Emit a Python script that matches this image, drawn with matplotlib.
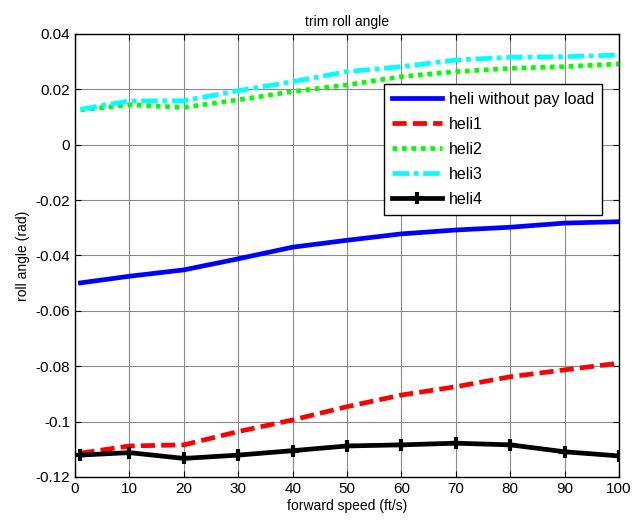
import matplotlib
matplotlib.use("Agg")
import matplotlib.pyplot as plt

plt.rcParams['font.family'] = ['Liberation Sans', 'DejaVu Sans']

# forward speed (ft/s)
speed = [1, 10, 20, 30, 40, 50, 60, 70, 80, 90, 100]

# roll angle (rad)
heli0 = [-0.0499, -0.0475, -0.0452, -0.0412, -0.0370, -0.0345, -0.0322, -0.0308, -0.0298, -0.0283, -0.0278]
heli1 = [-0.1114, -0.1088, -0.1084, -0.1036, -0.0994, -0.0946, -0.0904, -0.0874, -0.0838, -0.0813, -0.0789]
heli2 = [0.0126, 0.0144, 0.0135, 0.0162, 0.0192, 0.0216, 0.0246, 0.0264, 0.0276, 0.0282, 0.0292]
heli3 = [0.0128, 0.0158, 0.0159, 0.0195, 0.0228, 0.0264, 0.0282, 0.0306, 0.0316, 0.0318, 0.0324]
heli4 = [-0.1121, -0.1112, -0.1133, -0.1121, -0.1105, -0.1088, -0.1084, -0.1078, -0.1084, -0.1109, -0.1124]

labels = ['heli without pay load', 'heli1', 'heli2', 'heli3', 'heli4']

fig = plt.figure(figsize=(6.33, 5.26), dpi=100)
ax = fig.add_axes([0.1185, 0.0932, 0.8595, 0.8422])

lw = 3.4
ax.plot(speed, heli0, color='#0000ff', lw=lw, label=labels[0])
ax.plot(speed, heli1, color='#ff0000', lw=lw, dashes=(3, 1.3), label=labels[1])
ax.plot(speed, heli2, color='#00ff00', lw=lw, dashes=(1, 1), label=labels[2])
ax.plot(speed, heli3, color='#00ffff', lw=lw, dashes=(3.5, 1, 1, 1), label=labels[3])
ax.plot(speed, heli4, color='#000000', lw=lw, marker='+', markersize=9,
        markeredgewidth=3, label=labels[4])

ax.set_xlim(0, 100)
ax.set_ylim(-0.12, 0.04)
ax.set_xticks(range(0, 101, 10))
ax.set_yticks([-0.12, -0.1, -0.08, -0.06, -0.04, -0.02, 0, 0.02, 0.04])
ax.set_yticklabels(['-0.12', '-0.1', '-0.08', '-0.06', '-0.04', '-0.02', '0', '0.02', '0.04'])
ax.tick_params(direction='in', top=True, right=True, labelsize=11, length=4)
ax.grid(True, color='#8a8a8a', lw=0.8)
ax.set_axisbelow(True)
for s in ax.spines.values():
    s.set_linewidth(1)

ax.set_title('trim roll angle', fontsize=10)
ax.set_xlabel('forward speed (ft/s)', fontsize=10, labelpad=2)
ax.set_ylabel('roll angle (rad)', fontsize=10)

leg = ax.legend(loc='upper right', bbox_to_anchor=(0.969, 0.887), fontsize=11.5,
                fancybox=False, framealpha=1, edgecolor='black', handlelength=3.1,
                borderpad=0.5, labelspacing=0.62, handletextpad=0.45,
                borderaxespad=0)
leg.get_frame().set_linewidth(1)

fig.savefig('out.png', dpi=100)
